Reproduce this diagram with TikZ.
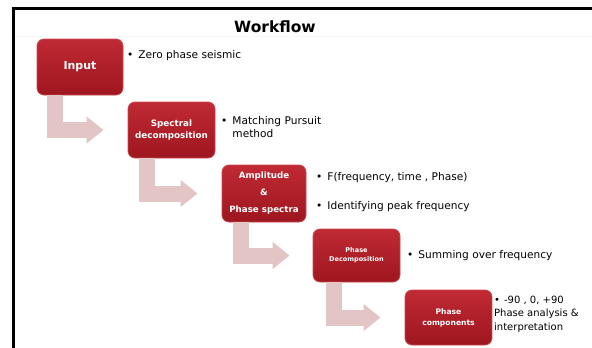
\documentclass[tikz,border=0pt]{standalone}
\usepackage{fontspec}
\setmainfont{DejaVu Sans}
\usetikzlibrary{arrows.meta}
\definecolor{boxTop}{HTML}{C02A34}
\definecolor{boxBot}{HTML}{9E161F}
\definecolor{boxEdge}{HTML}{C9484F}
\definecolor{arrowPink}{HTML}{E3C5C5}

\tikzset{
  flowbox/.style={rounded corners=7pt, top color=boxTop, bottom color=boxBot,
    draw=boxEdge, line width=0.8pt, text=white, align=center, inner sep=2pt},
  flowarrow/.style={draw=arrowPink, line width=16pt, line join=miter,
    -{Triangle[width=26pt,length=17pt]}},
  note/.style={anchor=west, inner sep=0pt, align=left,
    font=\fontsize{10.6}{12.5}\selectfont},
}

\begin{document}
\begin{tikzpicture}[x=1pt, y=-1pt]
    \useasboundingbox (0,0) rectangle (592,348);
    % Frame
    \draw[line width=3pt] (13.5,348) -- (13.5,8.5) -- (592,8.5);
    \draw[gray!7, line width=0.8pt] (15,36.5) -- (592,36.5);
    \node[font=\bfseries\fontsize{15.5}{18}\selectfont] (title) at (275,27) {Workflow};
    % Steps
    \node[flowbox, minimum width=86pt, minimum height=56pt,
      font=\bfseries\fontsize{11}{13}\selectfont] (in) at (80,67) {Input};
    \node[flowbox, minimum width=87pt, minimum height=56pt,
      font=\bfseries\fontsize{8.8}{11.5}\selectfont] (spec) at (171.5,130) {Spectral\\decomposition};
    \node[flowbox, minimum width=84pt, minimum height=57pt,
      font=\bfseries\fontsize{8.7}{17}\selectfont] (amp) at (264,193.5) {Amplitude\\\&\\Phase spectra};
    \node[flowbox, minimum width=87pt, minimum height=53pt,
      font=\bfseries\fontsize{6.5}{9}\selectfont] (pdec) at (356.5,255.5) {Phase\\Decomposition};
    \node[flowbox, minimum width=87pt, minimum height=55pt,
      font=\bfseries\fontsize{7.6}{11}\selectfont] (pcomp) at (448.5,317.5) {Phase\\components};
    % Arrows
    \draw[flowarrow] ([xshift=-25pt]in.south) |- ([xshift=-24pt]spec.west);
    \draw[flowarrow] ([xshift=-25pt]spec.south) |- ([xshift=-24pt]amp.west);
    \draw[flowarrow] ([xshift=-23pt]amp.south) |- ([xshift=-23pt]pdec.west);
    \draw[flowarrow] ([xshift=-23pt]pdec.south) |- ([xshift=-24pt]pcomp.west);
    % Notes
    \node[note] (n1) at (127,56) {\textbullet\hspace{5pt}Zero phase seismic};
    \node[note] (n2) at (221,128.5) {\begin{tabular}{@{}l@{\hspace{5pt}}l@{}}\textbullet & Matching Pursuit\\ & method\end{tabular}};
    \node[note] (n3a) at (316,178) {\textbullet\hspace{5pt}F(frequency, time , Phase)};
    \node[note] (n3b) at (316,207) {\textbullet\hspace{5pt}Identifying peak frequency};
    \node[note] (n4) at (407,256) {\textbullet\hspace{5pt}Summing over frequency};
    \node[note, font=\fontsize{10}{13.5}\selectfont] (n5) at (494,314)
      {\textbullet\hspace{4pt}-90 , 0, +90\\Phase analysis \&\\interpretation};
\end{tikzpicture}
\end{document}
